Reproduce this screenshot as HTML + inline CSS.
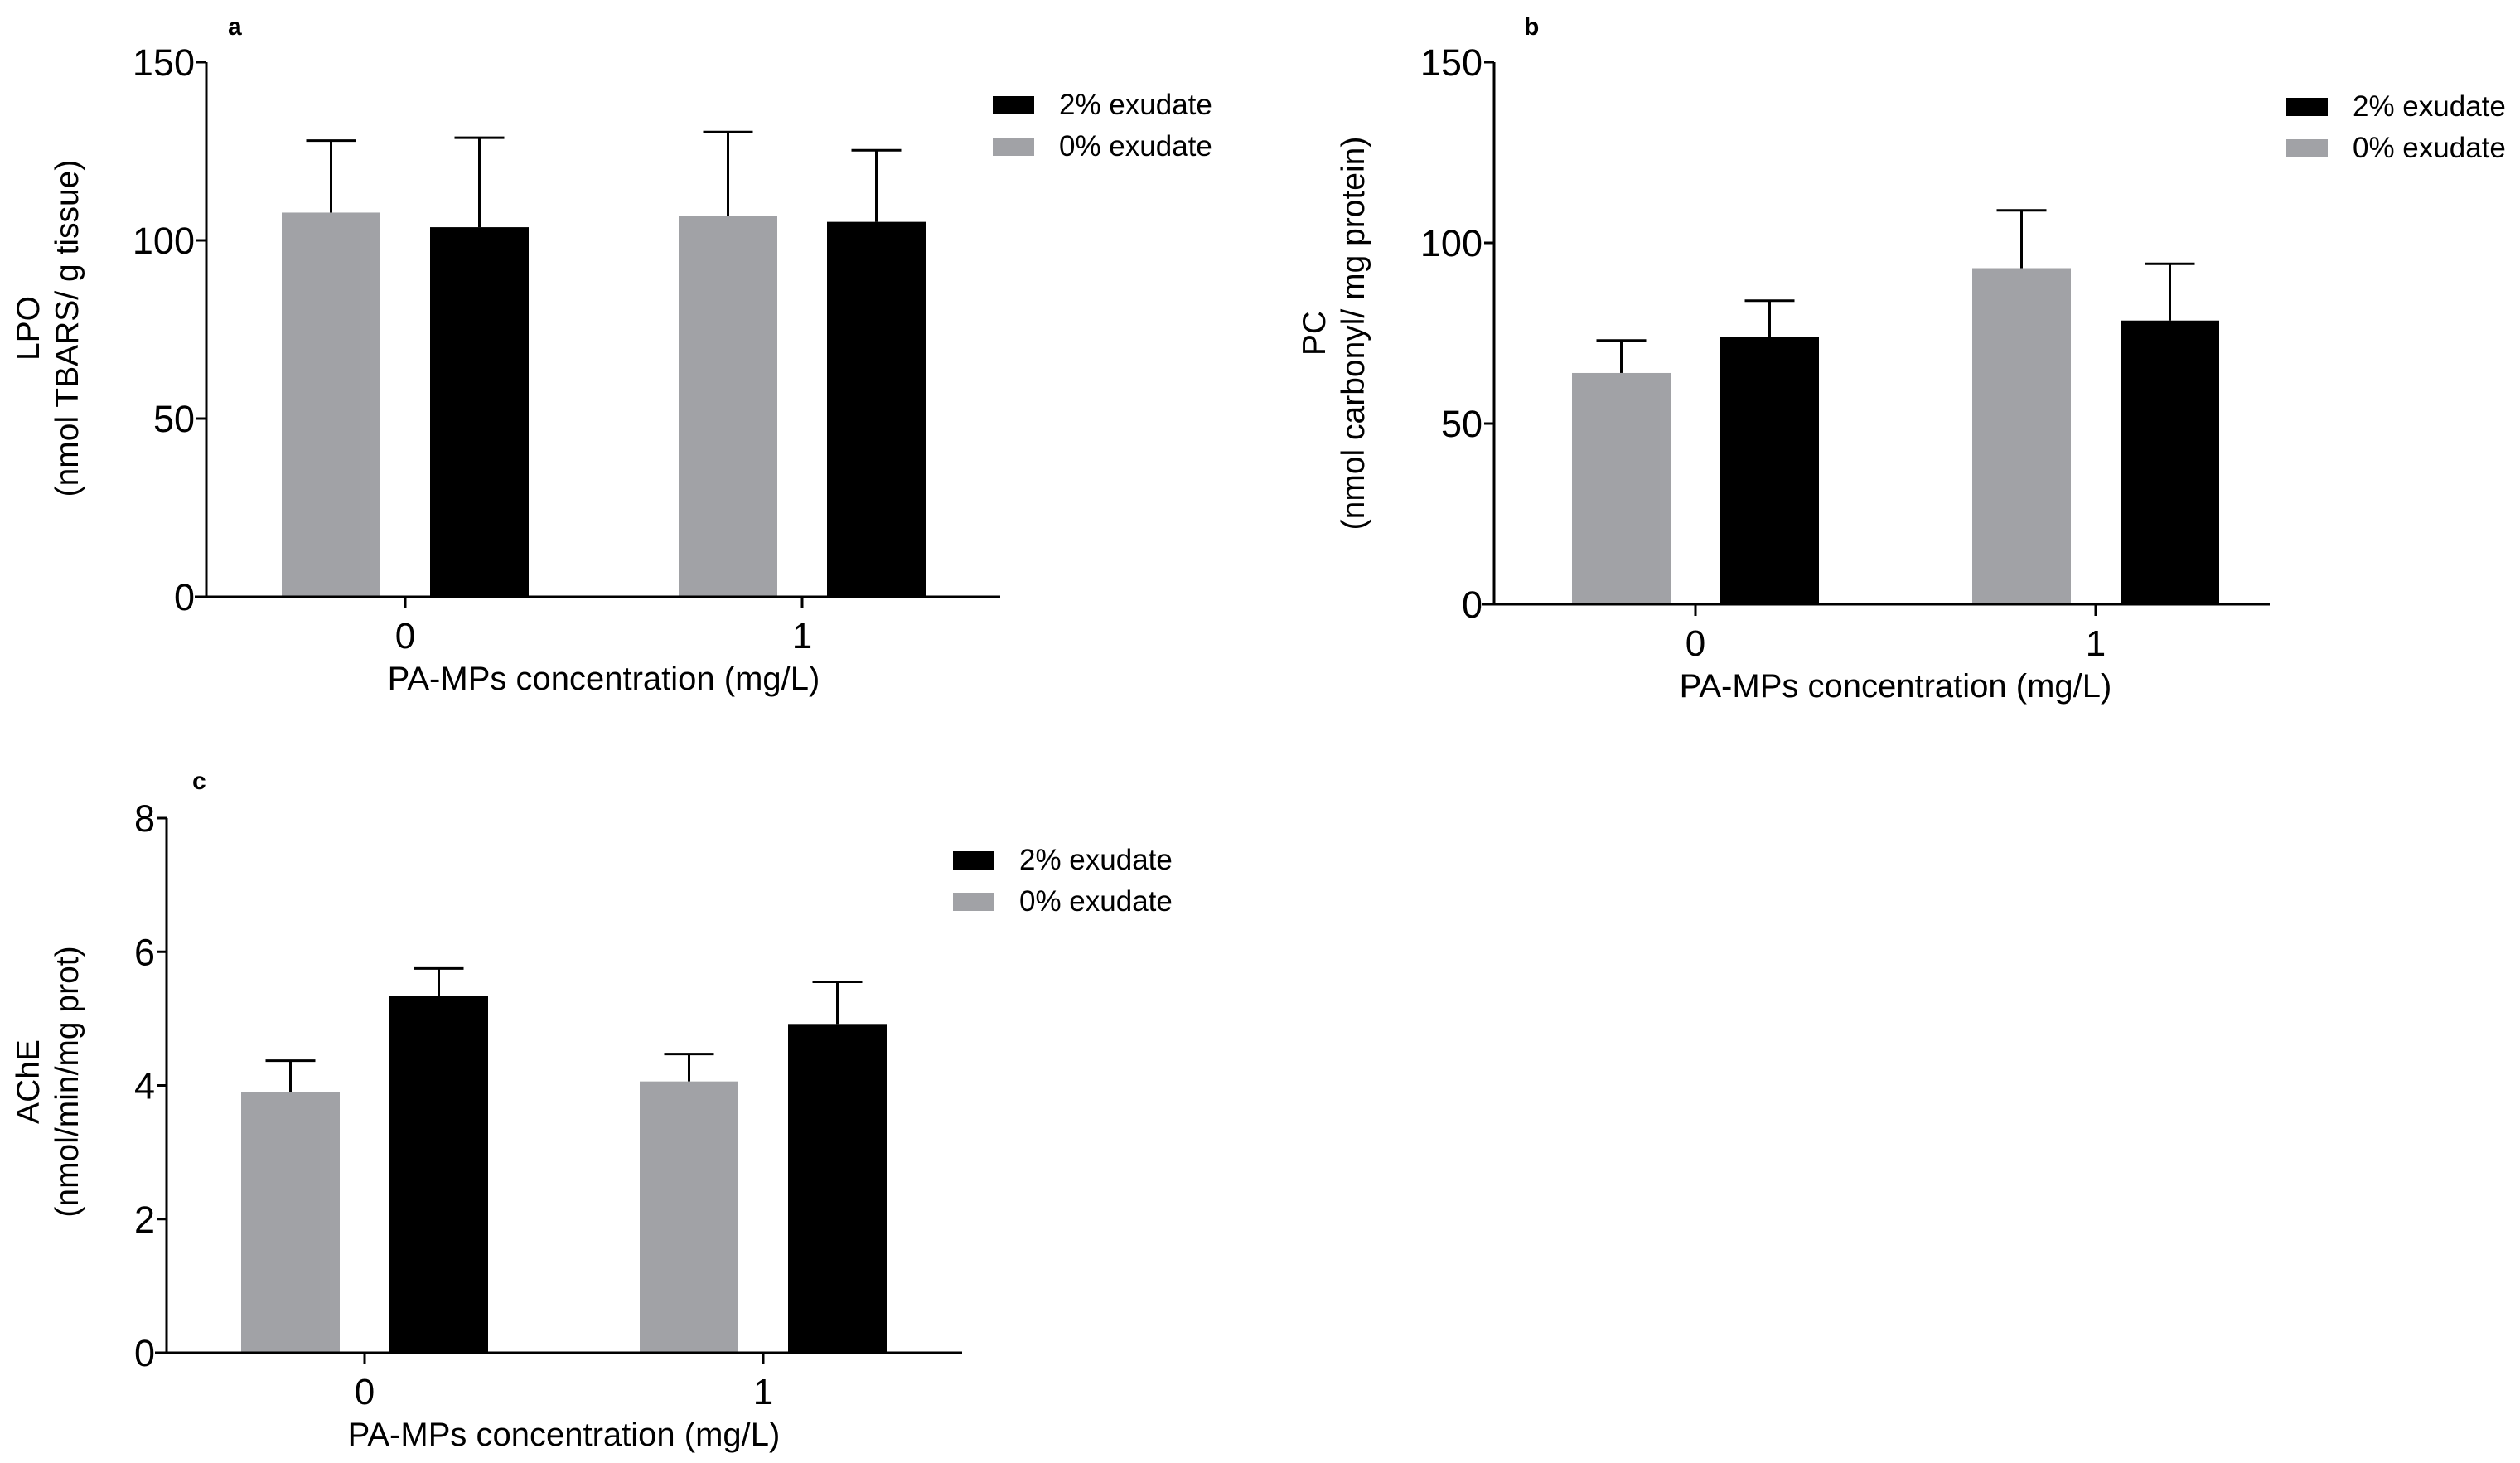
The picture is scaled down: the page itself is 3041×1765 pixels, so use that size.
<!DOCTYPE html>
<html><head><meta charset="utf-8"><style>
html,body{margin:0;padding:0;background:#fff;}
svg{display:block;font-family:"Liberation Sans",sans-serif;}
</style></head><body>
<svg id="fig" width="3041" height="1765" viewBox="0 0 3041 1765" xmlns="http://www.w3.org/2000/svg"></svg>
<script>
const categories = ["0", "1"];
const seriesNames = ["0% exudate", "2% exudate"];
const lpoMean0 = [107.8, 106.9];
const lpoErr0 = [128, 130.4];
const lpoMean2 = [103.7, 105.2];
const lpoErr2 = [128.8, 125.3];
const pcMean0 = [64, 93];
const pcErr0 = [73, 109];
const pcMean2 = [74, 78.5];
const pcErr2 = [84, 94.2];
const acheMean0 = [3.9, 4.06];
const acheErr0 = [4.37, 4.47];
const acheMean2 = [5.34, 4.92];
const acheErr2 = [5.75, 5.55];
const lpoTicks = [0, 50, 100, 150];
const pcTicks = [0, 50, 100, 150];
const acheTicks = [0, 2, 4, 6, 8];

const NS = "http://www.w3.org/2000/svg";
const svg = document.getElementById("fig");
function mk(tag, attrs, parent, text) {
  const e = document.createElementNS(NS, tag);
  for (const k in attrs) e.setAttribute(k, attrs[k]);
  if (text !== undefined) e.textContent = text;
  (parent || svg).appendChild(e);
  return e;
}

function panel(cfg) {
  const g = mk("g", {});
  
  
  const yMax = cfg.ticks[cfg.ticks.length - 1];
  const y = v => cfg.y0 - (v / yMax) * (cfg.y0 - cfg.yTop);
  const xCat = i => cfg.cx[i];
  const bw = 119, off = 89.5;
  const series = [
    {m: cfg.m0, e: cfg.e0, fill: "#a1a2a6", dx: -off, nm: "bar-0pct"},
    {m: cfg.m2, e: cfg.e2, fill: "#000", dx: off, nm: "bar-2pct"}
  ];
  series.forEach(s => {
    categories.forEach((c, i) => {
      const cx = xCat(i) + s.dx;
      const ln = mk("line", {x1: cx, x2: cx, y1: y(s.m[i]), y2: y(s.e[i]), stroke: "#000", "stroke-width": 3}, g);
      
      
      const cap = mk("line", {x1: cx - 30, x2: cx + 30, y1: y(s.e[i]), y2: y(s.e[i]), stroke: "#000", "stroke-width": 3}, g);
      
      
      const r = mk("rect", {x: cx - bw / 2, y: y(s.m[i]), width: bw, height: cfg.y0 - y(s.m[i]), fill: s.fill}, g);
      
      
    });
  });
  const ya = mk("line", {x1: cfg.ax, x2: cfg.ax, y1: cfg.yTop, y2: cfg.y0, stroke: "#000", "stroke-width": 3}, g);
  
  
  const xa = mk("line", {x1: cfg.ax - 14, x2: cfg.xEnd, y1: cfg.y0, y2: cfg.y0, stroke: "#000", "stroke-width": 3}, g);
  
  
  cfg.ticks.forEach(t => {
    mk("line", {x1: cfg.ax - 12, x2: cfg.ax, y1: y(t), y2: y(t), stroke: "#000", "stroke-width": 3}, g);
    const tl = mk("text", {x: cfg.ax - 14, y: y(t) + 16, "text-anchor": "end", "font-size": 45}, g, String(t));
    
    
  });
  categories.forEach((c, i) => {
    mk("line", {x1: xCat(i), x2: xCat(i), y1: cfg.y0, y2: cfg.y0 + 14, stroke: "#000", "stroke-width": 3}, g);
    const tl = mk("text", {x: xCat(i), y: cfg.y0 + 62, "text-anchor": "middle", "font-size": 44}, g, c);
    
    
  });
  const xt = mk("text", {x: (cfg.cx[0] + cfg.cx[1]) / 2, y: cfg.y0 + 112, "text-anchor": "middle", "font-size": 40}, g, "PA-MPs concentration (mg/L)");
  
  
  const yt = mk("text", {transform: `translate(${cfg.ylx},${cfg.ylY}) rotate(-90)`, "text-anchor": "middle", "font-size": 39}, g);
  
  
  mk("tspan", {x: 0, dy: 0}, yt, cfg.yl1);
  mk("tspan", {x: 0, dy: 47}, yt, cfg.yl2);
  const pl = mk("text", {x: cfg.lx, y: cfg.ly, "font-size": 30, "font-weight": "bold"}, g, cfg.letter);
  
  
  [["2% exudate", "#000", 0], ["0% exudate", "#a1a2a6", 50]].forEach(([t, f, dy]) => {
    const sw = mk("rect", {x: cfg.legX, y: cfg.legY + dy, width: 50, height: 22, fill: f}, g);
    
    
    const lt = mk("text", {x: cfg.legX + 80, y: cfg.legY + dy + 22, "font-size": 35}, g, t);
    
    
  });
}

panel({name: "panel-a-lpo", letter: "a", lx: 275, ly: 42, ax: 249, yTop: 75, y0: 720, xEnd: 1207, cx: [489, 968],
  ticks: lpoTicks, m0: lpoMean0, e0: lpoErr0, m2: lpoMean2, e2: lpoErr2,
  ylx: 47, ylY: 396, yl1: "LPO", yl2: "(nmol TBARS/ g tissue)", legX: 1198, legY: 116});
panel({name: "panel-b-pc", letter: "b", lx: 1839, ly: 42, ax: 1803, yTop: 75, y0: 729, xEnd: 2739, cx: [2046, 2529],
  ticks: pcTicks, m0: pcMean0, e0: pcErr0, m2: pcMean2, e2: pcErr2,
  ylx: 1599, ylY: 402, yl1: "PC", yl2: "(nmol carbonyl/ mg protein)", legX: 2759, legY: 118});
panel({name: "panel-c-ache", letter: "c", lx: 232, ly: 952, ax: 201, yTop: 987, y0: 1632, xEnd: 1161, cx: [440, 921],
  ticks: acheTicks, m0: acheMean0, e0: acheErr0, m2: acheMean2, e2: acheErr2,
  ylx: 47, ylY: 1305, yl1: "AChE", yl2: "(nmol/min/mg prot)", legX: 1150, legY: 1027});
</script>
</body></html>
